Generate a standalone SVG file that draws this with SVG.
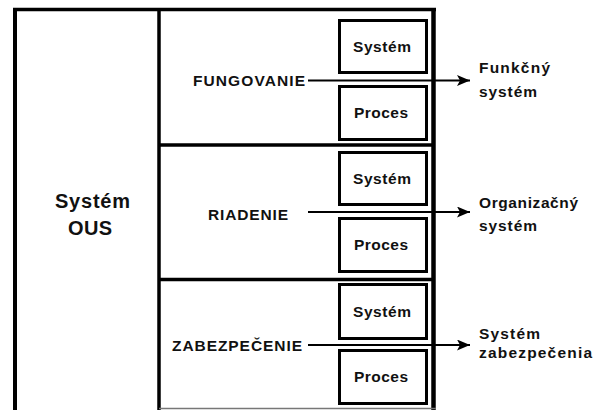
<svg xmlns="http://www.w3.org/2000/svg" width="596" height="410" viewBox="0 0 596 410">
<style>
  .t { font-family: "Liberation Sans", Arial, sans-serif; font-weight: bold; fill: #111; }
  .s { font-size: 15.5px; }
  .big { font-size: 20px; }
  .frame { stroke: #000; fill: none; }
  .box rect { fill: #fff; stroke: #000; stroke-width: 3; }
  .conn line { stroke: #000; stroke-width: 2.2; }
</style>
<defs>
  <marker id="ah" viewBox="0 0 13 11" refX="13" refY="5.5" markerWidth="13" markerHeight="11" markerUnits="userSpaceOnUse" orient="auto">
    <path d="M0,0 L13,5.5 L0,11 L3,5.5 Z" fill="#000"/>
  </marker>
</defs>
<rect width="596" height="410" fill="#fff"/>
<g id="frame">
  <line class="frame" x1="15" y1="8" x2="15" y2="410" stroke-width="4"/>
  <line class="frame" x1="13" y1="9.5" x2="436" y2="9.5" stroke-width="3.5"/>
  <line class="frame" x1="159" y1="9" x2="159" y2="410" stroke-width="3.5"/>
  <line class="frame" x1="433.5" y1="8" x2="433.5" y2="410" stroke-width="4.5"/>
  <line class="frame" x1="159" y1="145" x2="433" y2="145" stroke-width="3.5"/>
  <line class="frame" x1="159" y1="279.5" x2="433" y2="279.5" stroke-width="3.5"/>
  <line x1="159" y1="408.5" x2="436" y2="408.5" stroke="#777" stroke-width="1.5"/>
</g>
<g id="ous">
  <text class="t big" x="55" y="208" textLength="75" lengthAdjust="spacing">Systém</text>
  <text class="t big" x="68" y="235" textLength="44" lengthAdjust="spacing">OUS</text>
</g>
<g id="fungovanie"><text class="t s" x="193" y="86" textLength="112" lengthAdjust="spacing">FUNGOVANIE</text></g>
<g id="riadenie"><text class="t s" x="208" y="220" textLength="80" lengthAdjust="spacing">RIADENIE</text></g>
<g id="zabezpecenie"><text class="t s" x="172" y="351" textLength="130" lengthAdjust="spacing">ZABEZPEČENIE</text></g>
<g id="box-system-1" class="box"><rect x="339.5" y="20.5" width="87" height="52"/><text class="t s" x="353" y="52" textLength="58" lengthAdjust="spacing">Systém</text></g>
<g id="box-proces-1" class="box"><rect x="339.5" y="86.5" width="87" height="53"/><text class="t s" x="354" y="118" textLength="54" lengthAdjust="spacing">Proces</text></g>
<g id="box-system-2" class="box"><rect x="339.5" y="152.5" width="87" height="52"/><text class="t s" x="353" y="184" textLength="58" lengthAdjust="spacing">Systém</text></g>
<g id="box-proces-2" class="box"><rect x="339.5" y="218.5" width="87" height="53"/><text class="t s" x="354" y="250" textLength="54" lengthAdjust="spacing">Proces</text></g>
<g id="box-system-3" class="box"><rect x="339.5" y="284.5" width="87" height="54"/><text class="t s" x="353" y="317" textLength="58" lengthAdjust="spacing">Systém</text></g>
<g id="box-proces-3" class="box"><rect x="339.5" y="350.5" width="87" height="53"/><text class="t s" x="354" y="382" textLength="54" lengthAdjust="spacing">Proces</text></g>
<g id="connectors" class="conn">
  <line x1="308" y1="80.5" x2="470" y2="80.5" marker-end="url(#ah)"/>
  <line x1="308" y1="212" x2="470" y2="212" marker-end="url(#ah)"/>
  <line x1="308" y1="345" x2="470" y2="345" marker-end="url(#ah)"/>
</g>
<g id="funkcny">
  <text class="t s" x="479" y="73" textLength="71" lengthAdjust="spacing">Funkčný</text>
  <text class="t s" x="479" y="97" textLength="58" lengthAdjust="spacing">systém</text>
</g>
<g id="organizacny">
  <text class="t s" x="479" y="208" textLength="99" lengthAdjust="spacing">Organizačný</text>
  <text class="t s" x="479" y="231" textLength="58" lengthAdjust="spacing">systém</text>
</g>
<g id="zabezpecenia">
  <text class="t s" x="479" y="339" textLength="61" lengthAdjust="spacing">Systém</text>
  <text class="t s" x="479" y="358" textLength="113" lengthAdjust="spacing">zabezpečenia</text>
</g>
</svg>
